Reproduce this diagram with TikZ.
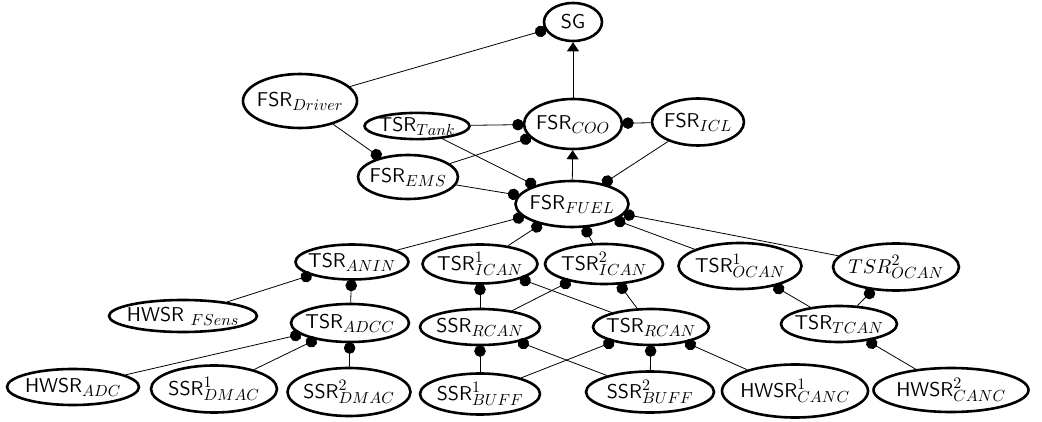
\documentclass[tikz,border=0pt]{standalone}
\usepackage{fontspec}
\setsansfont{lmsans10-regular.otf}
\usetikzlibrary{shapes.geometric,arrows.meta}
% scalable Computer Modern math fonts, so any size can be used
\DeclareFontShape{OML}{cmm}{m}{it}{<->cmmi10}{}
\DeclareFontShape{OT1}{cmr}{m}{n}{<->cmr10}{}
\DeclareFontShape{OMS}{cmsy}{m}{n}{<->cmsy10}{}
% larger script sizes for the subscripts in the node labels
\DeclareMathSizes{20}{20}{16}{12}
\newcommand\srfont{\sffamily\fontsize{20}{24}\selectfont}
\newcommand\srtext[1]{\makebox[0pt]{#1}}
\tikzset{
  sr/.style 2 args={ellipse, draw, line width=2.6pt, inner sep=0pt,
    minimum width=#1pt, minimum height=#2pt, font=\srfont},
  dotlink/.style={line width=0.8pt, -{Circle[length=11.5pt]}, shorten >=-1pt},
  arrlink/.style={line width=0.8pt, -{Triangle[length=9pt,width=12pt]}}
}
\begin{document}
\begin{tikzpicture}[x=1pt,y=-1pt]
\useasboundingbox (0,0) rectangle (1042,422);

% goal and top-level requirements
\node[sr={58}{38}]   (sg)     at (573,22)  {\srtext{SG}};
\node[sr={114}{54}]  (driver) at (300,101) {\srtext{FSR$_{Driver}$}};
\node[sr={105}{26}]  (tank)   at (417,126) {\srtext{TSR$_{Tank}$}};
\node[sr={98}{50}]   (coo)    at (573,124) {\srtext{FSR$_{COO}$}};
\node[sr={92}{47}]   (icl)    at (698,122) {\srtext{FSR$_{ICL}$}};
\node[sr={100}{44}]  (ems)    at (408,177) {\srtext{FSR$_{EMS}$}};
\node[sr={113}{46}]  (fuel)   at (572,204) {\srtext{FSR$_{FUEL}$}};

% technical requirements
\node[sr={113}{35}]  (anin)   at (352,262) {\srtext{TSR$_{ANIN}$}};
\node[sr={115}{39}]  (icanA)  at (480,264) {\srtext{TSR$^1_{ICAN}$}};
\node[sr={118}{40}]  (icanB)  at (604,264) {\srtext{TSR$^2_{ICAN}$}};
\node[sr={123}{46}]  (ocanA)  at (740,266) {\srtext{TSR$^1_{OCAN}$}};
\node[sr={126}{47}]  (ocanB)  at (896,267) {\srtext{$TSR^2_{OCAN}$}};
\node[sr={148}{32}]  (fsens)  at (183,316) {\srtext{HWSR $_{FSens}$}};
\node[sr={118}{38}]  (adcc)   at (350,323) {\srtext{TSR$_{ADCC}$}};
\node[sr={120}{36}]  (srcan)  at (480,327) {\srtext{SSR$_{RCAN}$}};
\node[sr={116}{36}]  (trcan)  at (651,327) {\srtext{TSR$_{RCAN}$}};
\node[sr={116}{36}]  (tcan)   at (839,324) {\srtext{TSR$_{TCAN}$}};

% software and hardware requirements
\node[sr={132}{36}]  (adc)    at (73,387)  {\srtext{HWSR$_{ADC}$}};
\node[sr={126}{47}]  (dmacA)  at (214,389) {\srtext{SSR$^1_{DMAC}$}};
\node[sr={123}{48}]  (dmacB)  at (349,392) {\srtext{SSR$^2_{DMAC}$}};
\node[sr={120}{41}]  (buffA)  at (480,394) {\srtext{SSR$^1_{BUFF}$}};
\node[sr={128}{41}]  (buffB)  at (650,392) {\srtext{SSR$^2_{BUFF}$}};
\node[sr={146}{53}]  (cancA)  at (795,391) {\srtext{HWSR$^1_{CANC}$}};
\node[sr={155}{44}]  (cancB)  at (951,390) {\srtext{HWSR$^2_{CANC}$}};

% connections
\draw[arrlink] (coo) -- (sg);
\draw[arrlink] (fuel) -- (coo);
\draw[dotlink] (driver) -- (sg);
\draw[dotlink] (tank) -- (coo);
\draw[dotlink] (ems) -- (coo);
\draw[dotlink] (icl) -- (coo);
\draw[dotlink] (driver) -- (ems);
\draw[dotlink] (tank) -- (fuel);
\draw[dotlink] (ems) -- (fuel);
\draw[dotlink] (icl) -- (fuel);
\draw[dotlink] (anin) -- (fuel);
\draw[dotlink] (icanA) -- (fuel);
\draw[dotlink] (icanB) -- (fuel);
\draw[dotlink] (ocanA) -- (fuel);
\draw[dotlink] (ocanB) -- (fuel);
\draw[dotlink] (fsens) -- (anin);
\draw[dotlink] (adcc) -- (anin);
\draw[dotlink] (adc) -- (adcc);
\draw[dotlink] (dmacA) -- (adcc);
\draw[dotlink] (dmacB) -- (adcc);
\draw[dotlink] (srcan) -- (icanA);
\draw[dotlink] (trcan) -- (icanA);
\draw[dotlink] (srcan) -- (icanB);
\draw[dotlink] (trcan) -- (icanB);
\draw[dotlink] (tcan) -- (ocanA);
\draw[dotlink] (tcan) -- (ocanB);
\draw[dotlink] (cancB) -- (tcan);
\draw[dotlink] (buffA) -- (srcan);
\draw[dotlink] (buffB) -- (srcan);
\draw[dotlink] (buffA) -- (trcan);
\draw[dotlink] (buffB) -- (trcan);
\draw[dotlink] (cancA) -- (trcan);
\end{tikzpicture}
\end{document}
